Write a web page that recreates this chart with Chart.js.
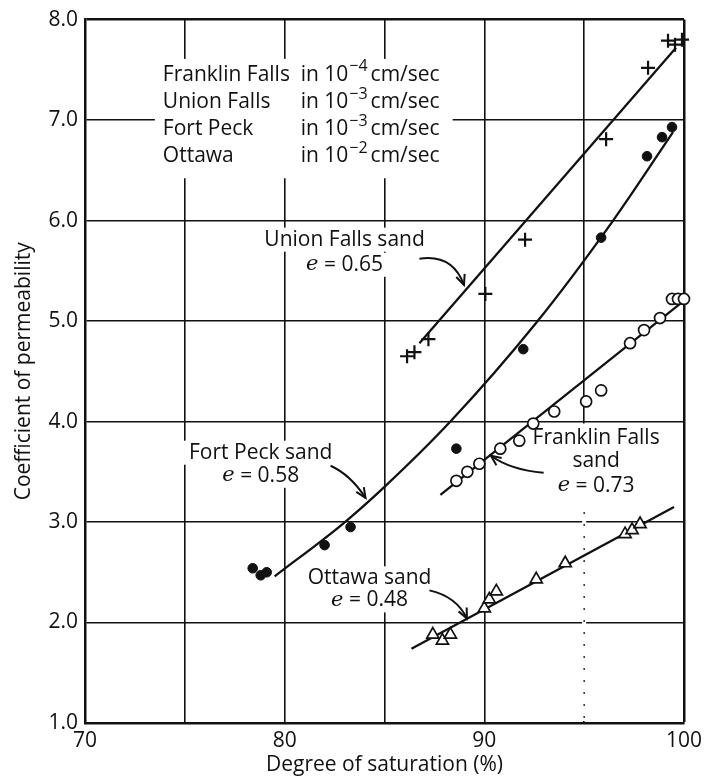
<!DOCTYPE html>
<html>
<head>
<meta charset="utf-8">
<script src="https://cdn.jsdelivr.net/npm/chart.js@4/dist/chart.umd.min.js"></script>
<style>
  body { margin: 0; background: #fff; }
  canvas { display: block; }
</style>
</head>
<body>
<canvas id="myChart" width="707" height="778"></canvas>
<script>
// axis ticks
const xTickLabels = [70, 80, 90, 100];   // labelled; grid every 5 %
const yTickLabels = ['1.0', '2.0', '3.0', '4.0', '5.0', '6.0', '7.0', '8.0'];

// measured points: degree of saturation (%) / coefficient of permeability
const unionFallsX = [86.13, 86.5, 87.2, 90.05, 92.04, 96.1, 98.2, 99.2, 99.55, 99.9];
const unionFallsY = [4.65, 4.69, 4.82, 5.27, 5.81, 6.81, 7.52, 7.79, 7.75, 7.8];

const fortPeckX = [78.4, 78.8, 79.1, 82.0, 83.3, 88.6, 91.95, 95.85, 98.15, 98.9, 99.4];
const fortPeckY = [2.54, 2.47, 2.50, 2.77, 2.95, 3.73, 4.72, 5.83, 6.64, 6.83, 6.93];

const franklinFallsX = [88.6, 89.15, 89.75, 90.8, 91.75, 92.45, 93.5, 95.1, 95.85, 97.3, 98.0, 98.8, 99.4, 99.7, 100.0];
const franklinFallsY = [3.41, 3.50, 3.58, 3.73, 3.81, 3.98, 4.10, 4.20, 4.31, 4.78, 4.91, 5.03, 5.22, 5.22, 5.22];

const ottawaX = [87.42, 87.9, 88.3, 90.0, 90.25, 90.6, 92.6, 94.05, 97.05, 97.4, 97.8];
const ottawaY = [1.88, 1.82, 1.88, 2.14, 2.23, 2.31, 2.43, 2.59, 2.88, 2.92, 2.98];

// fitted curves
const unionLineX = [86.75, 99.6];
const unionLineY = [4.78, 7.72];
const fortPeckLineX = [79.5, 82.9, 85.0, 88.3, 92.55, 96.45, 99.45];
const fortPeckLineY = [2.46, 2.98, 3.35, 4.0, 4.97, 6.0, 6.88];
const franklinLineX = [87.8, 99.8];
const franklinLineY = [3.27, 5.17];
const ottawaLineX = [86.35, 99.5];
const ottawaLineY = [1.74, 3.15];

// unit note and void ratios
const sandNames = ['Franklin Falls', 'Union Falls', 'Fort Peck', 'Ottawa'];
const unitExponents = ['\u22124', '\u22123', '\u22123', '\u22122'];
const voidRatios = ['0.65', '0.58', '0.73', '0.48'];

const SANS = '"Open Sans", "Noto Sans", sans-serif';
const SERIF = '"DejaVu Serif", "Liberation Serif", serif';
const INK = '#111';
const W = '500 ';

function pts(xs, ys) {
    return xs.map((x, i) => ({ x: x, y: ys[i] }));
}

// curve labels, placed in data units (x %, y coefficient)
const curveNotes = [
    { lines: ['Union Falls sand'], e: voidRatios[0], x: 83.0, y: [5.81, 5.56],
      arrow: [[86.75, 5.62], [88.4, 5.67], [88.98, 5.36]] },
    { lines: ['Fort Peck sand'], e: voidRatios[1], x: 78.8, y: [3.69, 3.46],
      arrow: [[82.3, 3.56], [83.3, 3.47], [84.05, 3.24]] },
    { lines: ['Franklin Falls', 'sand'], e: voidRatios[2], x: 95.6, y: [3.84, 3.61, 3.36],
      arrow: [[92.97, 3.49], [91.3, 3.52], [90.33, 3.66]] },
    { lines: ['Ottawa sand'], e: voidRatios[3], x: 84.25, y: [2.44, 2.22],
      arrow: [[87.25, 2.32], [88.6, 2.26], [89.13, 2.04]] }
];

function eText(ctx, value, cx, cy, size, box) {
    ctx.font = 'italic ' + size + 'px ' + SERIF;
    const w1 = ctx.measureText('e').width;
    ctx.font = W + size + 'px ' + SANS;
    const rest = ' = ' + value;
    const w2 = ctx.measureText(rest).width;
    const left = cx - (w1 + w2) / 2;
    if (box) {
        ctx.fillStyle = '#fff';
        ctx.fillRect(left - 5, cy - 12, w1 + w2 + 10, 24);
        return;
    }
    ctx.fillStyle = INK;
    ctx.textAlign = 'left';
    ctx.font = 'italic ' + size + 'px ' + SERIF;
    ctx.fillText('e', left, cy);
    ctx.font = W + size + 'px ' + SANS;
    ctx.fillText(rest, left + w1, cy);
}

function arrow(ctx, p0, p1, p2) {
    ctx.strokeStyle = INK;
    ctx.lineWidth = 2;
    ctx.beginPath();
    ctx.moveTo(p0[0], p0[1]);
    ctx.quadraticCurveTo(p1[0], p1[1], p2[0], p2[1]);
    ctx.stroke();
    const a = Math.atan2(p2[1] - p1[1], p2[0] - p1[0]);
    const len = 11, spread = 0.42;
    ctx.beginPath();
    ctx.moveTo(p2[0] - len * Math.cos(a - spread), p2[1] - len * Math.sin(a - spread));
    ctx.lineTo(p2[0], p2[1]);
    ctx.lineTo(p2[0] - len * Math.cos(a + spread), p2[1] - len * Math.sin(a + spread));
    ctx.stroke();
}

// text, arrows and the gaps they leave in the grid
const notesPlugin = {
    id: 'notes',
    beforeDatasetsDraw(chart) {
        const ctx = chart.ctx;
        const sx = v => chart.scales.x.getPixelForValue(v);
        const sy = v => chart.scales.y.getPixelForValue(v);
        const size = 21;
        const supSize = 16;
        ctx.save();
        ctx.textBaseline = 'middle';

        // 95 % grid line is faint below 4.0 in the original
        ctx.fillStyle = '#fff';
        ctx.fillRect(sx(95) - 2, sy(4.0) + 2, 4, sy(1) - sy(4.0) - 4);
        ctx.strokeStyle = INK;
        ctx.lineWidth = 1.3;
        ctx.setLineDash([2, 10]);
        ctx.beginPath();
        ctx.moveTo(sx(95), sy(3.1));
        ctx.lineTo(sx(95), sy(1.05));
        ctx.stroke();
        ctx.setLineDash([]);

        // unit note block
        const noteX = sx(73.9), colX = sx(80.8);
        const rowY = [7.45, 7.18, 6.91, 6.64].map(sy);
        ctx.font = W + size + 'px ' + SANS;
        const wIn = ctx.measureText('in 10').width;
        ctx.font = W + supSize + 'px ' + SANS;
        const wExp = ctx.measureText('\u22124').width;
        ctx.font = W + size + 'px ' + SANS;
        const wCm = ctx.measureText('cm/sec').width;
        const cmX = colX + wIn + wExp + 4;
        ctx.fillStyle = '#fff';
        ctx.fillRect(noteX - 8, rowY[0] - 16, cmX + wCm + 13 - noteX + 8, rowY[3] - rowY[0] + 38);
        ctx.fillStyle = INK;
        ctx.textAlign = 'left';
        sandNames.forEach((name, i) => {
            ctx.font = W + size + 'px ' + SANS;
            ctx.fillText(name, noteX, rowY[i]);
            ctx.fillText('in 10', colX, rowY[i]);
            ctx.font = W + supSize + 'px ' + SANS;
            ctx.fillText(unitExponents[i], colX + wIn + 1, rowY[i] - 8);
            ctx.font = W + size + 'px ' + SANS;
            ctx.fillText('cm/sec', cmX, rowY[i]);
        });

        // curve labels
        curveNotes.forEach(n => {
            const cx = sx(n.x);
            ctx.font = W + size + 'px ' + SANS;
            n.lines.forEach((t, i) => {
                const w = ctx.measureText(t).width;
                ctx.fillStyle = '#fff';
                ctx.fillRect(cx - w / 2 - 5, sy(n.y[i]) - 12, w + 10, 24);
            });
            eText(ctx, n.e, cx, sy(n.y[n.lines.length]), size, true);
            ctx.fillStyle = INK;
            ctx.textAlign = 'center';
            n.lines.forEach((t, i) => {
                ctx.font = W + size + 'px ' + SANS;
                ctx.fillText(t, cx, sy(n.y[i]));
            });
            eText(ctx, n.e, cx, sy(n.y[n.lines.length]), size, false);
            const p = n.arrow.map(q => [sx(q[0]), sy(q[1])]);
            arrow(ctx, p[0], p[1], p[2]);
        });
        ctx.restore();
    }
};

const lineStyle = { showLine: true, pointRadius: 0, borderColor: INK, borderWidth: 2.3, fill: false, order: 1 };

const ctx = document.getElementById('myChart').getContext('2d');
const myChart = new Chart(ctx, {
    type: 'scatter',
    data: {
        datasets: [
            { label: 'Union Falls', data: pts(unionFallsX, unionFallsY), pointStyle: 'cross',
              pointRadius: 7, borderWidth: 2.2, borderColor: INK, order: 0 },
            { label: 'Fort Peck', data: pts(fortPeckX, fortPeckY), pointStyle: 'circle',
              pointRadius: 4.8, backgroundColor: INK, borderColor: INK, borderWidth: 1, order: 0 },
            { label: 'Franklin Falls', data: pts(franklinFallsX, franklinFallsY), pointStyle: 'circle',
              pointRadius: 5.5, backgroundColor: '#fff', borderColor: INK, borderWidth: 1.7, order: 0 },
            { label: 'Ottawa', data: pts(ottawaX, ottawaY), pointStyle: 'triangle',
              pointRadius: 7, backgroundColor: '#fff', borderColor: INK, borderWidth: 1.7, order: 0 },
            Object.assign({ label: 'Union Falls fit', data: pts(unionLineX, unionLineY) }, lineStyle),
            Object.assign({ label: 'Fort Peck fit', data: pts(fortPeckLineX, fortPeckLineY),
              cubicInterpolationMode: 'monotone' }, lineStyle),
            Object.assign({ label: 'Franklin Falls fit', data: pts(franklinLineX, franklinLineY) }, lineStyle),
            Object.assign({ label: 'Ottawa fit', data: pts(ottawaLineX, ottawaLineY) }, lineStyle)
        ]
    },
    options: {
        responsive: false,
        animation: false,
        events: [],
        clip: false,
        layout: { padding: { top: 17, right: 20, left: 0, bottom: 0 } },
        plugins: {
            legend: { display: false },
            tooltip: { enabled: false }
        },
        scales: {
            x: {
                type: 'linear',
                min: 70,
                max: 100,
                afterFit: s => { s.height = 55; },
                border: { display: true, color: INK, width: 2.5 },
                grid: {
                    color: INK,
                    drawTicks: false,
                    lineWidth: c => (c.tick && c.tick.value === 100 ? 2.5 : 1.6)
                },
                ticks: {
                    stepSize: 5,
                    padding: 5,
                    color: INK,
                    font: { family: SANS, size: 21, weight: '500' },
                    callback: v => (xTickLabels.includes(v) ? String(v) : '')
                },
                title: {
                    display: true,
                    text: 'Degree of saturation (%)',
                    color: INK,
                    font: { family: SANS, size: 21, weight: '500' },
                    padding: { top: 0, bottom: 0 }
                }
            },
            y: {
                min: 1,
                max: 8,
                afterFit: s => { s.width = 85; },
                border: { display: true, color: INK, width: 2.5 },
                grid: {
                    color: INK,
                    drawTicks: false,
                    lineWidth: c => (c.tick && c.tick.value === 8 ? 2.5 : 1.6)
                },
                ticks: {
                    stepSize: 1,
                    padding: 7,
                    color: INK,
                    font: { family: SANS, size: 21, weight: '500' },
                    callback: v => yTickLabels[Math.round(v) - 1]
                },
                title: {
                    display: true,
                    text: 'Coefficient of permeability',
                    color: INK,
                    font: { family: SANS, size: 21, weight: '500' },
                    padding: { top: 11, bottom: 0 }
                }
            }
        }
    },
    plugins: [notesPlugin]
});
</script>
</body>
</html>
